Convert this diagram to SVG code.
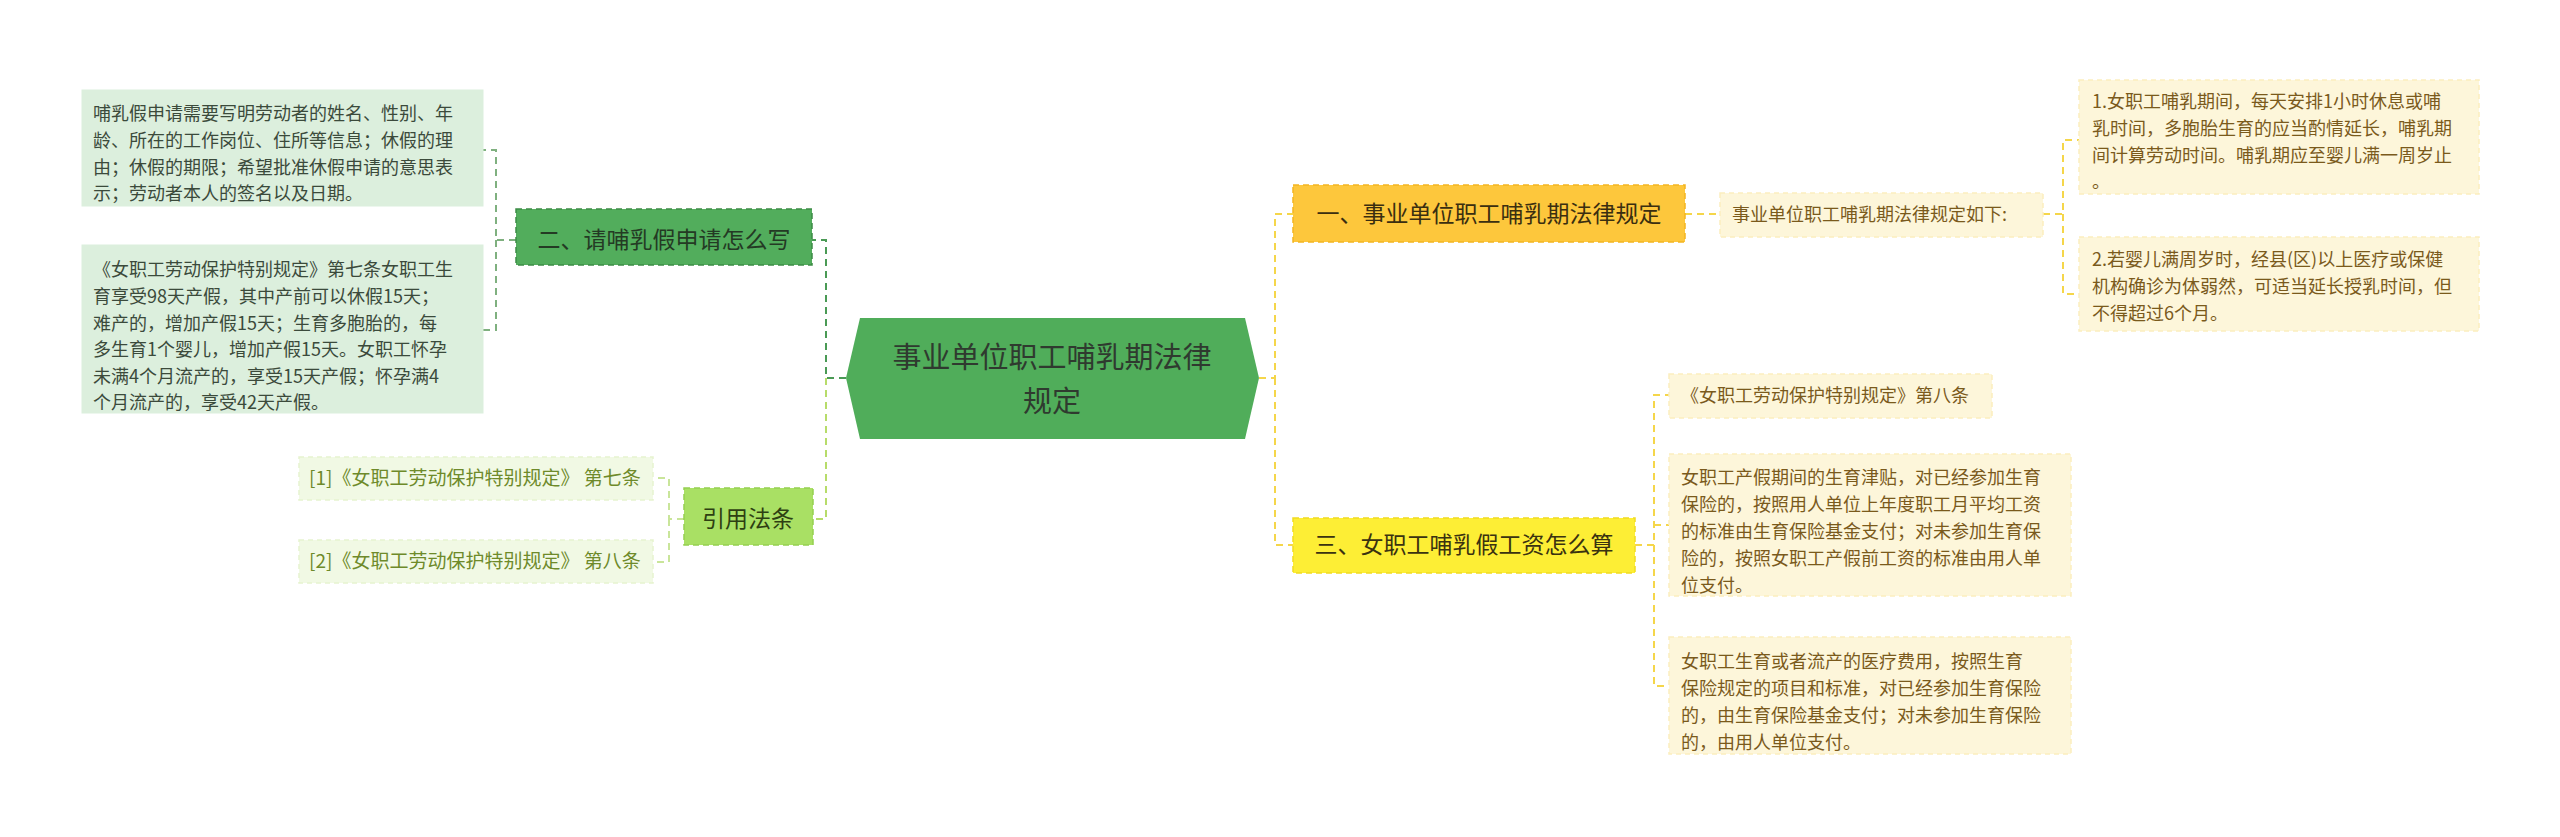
<svg xmlns="http://www.w3.org/2000/svg" width="2560" height="837" viewBox="0 0 2560 837">
<style>
text{font-family:"Noto Sans CJK SC","Noto Sans",sans-serif}
.c{fill:none;stroke-width:2;stroke-dasharray:7 5}
.lg{fill:#dcefdd;stroke:#dcefdd}
.ly{fill:#fdf6da;stroke:#fbeebf;stroke-dasharray:5 4;stroke-width:1.5}
.lc{fill:#f1f9e4;stroke:#e6f3cf;stroke-dasharray:5 4;stroke-width:1.5}
.tg{fill:#3b4a3b;font-size:18px}
.ty{fill:#7a5a1c;font-size:18px}
.tc{fill:#6e8a2a;font-size:19px}
</style>
<rect width="2560" height="837" fill="#fff"/>
<g id="connectors">
<path class="c" stroke="#4a9a55" d="M846 378H826V240H812"/>
<path class="c" stroke="#b7dc6a" d="M826 378V519H813"/>
<path class="c" stroke="#f5d64a" d="M1259 378H1275V214H1293M1275 378V545H1293M1685 214H1720M2043 214H2063V140H2079M2063 214V294H2079M1635 545H1654V395H1669M1654 525H1669M1654 545V686H1669"/>
<path class="c" stroke="#7fb07f" stroke-width="1.5" d="M516 240H496V150H483M496 240V330H483"/>
<path class="c" stroke="#c9e59a" stroke-width="1.5" d="M684 519H669V478H653M669 519V562H653"/>
</g>
<g id="root">
<polygon points="846,378 860,318 1245,318 1259,378 1245,439 860,439" fill="#50ad5a"/>
<text x="1052" y="368" text-anchor="middle" font-size="29" fill="#2f3a2f">事业单位职工哺乳期法律</text>
<text x="1052" y="412" text-anchor="middle" font-size="29" fill="#2f3a2f">规定</text>
</g>
<g id="b1">
<rect x="1293" y="185" width="392" height="57" fill="#fdc73c" stroke="#f3b520" stroke-dasharray="6 4" stroke-width="1.5"/>
<text x="1489" y="222" text-anchor="middle" font-size="23" fill="#3a2e10">一、事业单位职工哺乳期法律规定</text>
</g>
<g id="b1l0">
<rect class="ly" x="1720" y="193" width="323" height="44"/>
<text class="ty" x="1732" y="221">事业单位职工哺乳期法律规定如下:</text>
</g>
<g id="b1l1">
<rect class="ly" x="2079" y="80" width="400" height="114"/>
<text class="ty" x="2092" y="108">1.女职工哺乳期间，每天安排1小时休息或哺</text>
<text class="ty" x="2092" y="135">乳时间，多胞胎生育的应当酌情延长，哺乳期</text>
<text class="ty" x="2092" y="162">间计算劳动时间。哺乳期应至婴儿满一周岁止</text>
<text class="ty" x="2092" y="188">。</text>
</g>
<g id="b1l2">
<rect class="ly" x="2079" y="237" width="400" height="94"/>
<text class="ty" x="2092" y="266">2.若婴儿满周岁时，经县(区)以上医疗或保健</text>
<text class="ty" x="2092" y="293">机构确诊为体弱然，可适当延长授乳时间，但</text>
<text class="ty" x="2092" y="320">不得超过6个月。</text>
</g>
<g id="b3">
<rect x="1293" y="518" width="342" height="55" fill="#fdee35" stroke="#f1dc20" stroke-dasharray="6 4" stroke-width="1.5"/>
<text x="1464" y="553" text-anchor="middle" font-size="23" fill="#3a3210">三、女职工哺乳假工资怎么算</text>
</g>
<g id="b3l1">
<rect class="ly" x="1669" y="374" width="323" height="44"/>
<text class="ty" x="1681" y="402">《女职工劳动保护特别规定》第八条</text>
</g>
<g id="b3l2">
<rect class="ly" x="1669" y="454" width="402" height="142"/>
<text class="ty" x="1681" y="484">女职工产假期间的生育津贴，对已经参加生育</text>
<text class="ty" x="1681" y="511">保险的，按照用人单位上年度职工月平均工资</text>
<text class="ty" x="1681" y="538">的标准由生育保险基金支付；对未参加生育保</text>
<text class="ty" x="1681" y="565">险的，按照女职工产假前工资的标准由用人单</text>
<text class="ty" x="1681" y="592">位支付。</text>
</g>
<g id="b3l3">
<rect class="ly" x="1669" y="637" width="402" height="117"/>
<text class="ty" x="1681" y="668"> 女职工生育或者流产的医疗费用，按照生育</text>
<text class="ty" x="1681" y="695">保险规定的项目和标准，对已经参加生育保险</text>
<text class="ty" x="1681" y="722">的，由生育保险基金支付；对未参加生育保险</text>
<text class="ty" x="1681" y="749">的，由用人单位支付。</text>
</g>
<g id="b2">
<rect x="516" y="209" width="296" height="56" fill="#52ad5c" stroke="#3d8c45" stroke-dasharray="6 4" stroke-width="1.5"/>
<text x="664" y="248" text-anchor="middle" font-size="23" fill="#243a24">二、请哺乳假申请怎么写</text>
</g>
<g id="b2l1">
<rect class="lg" x="82" y="90" width="401" height="116"/>
<text class="tg" x="93" y="120">哺乳假申请需要写明劳动者的姓名、性别、年</text>
<text class="tg" x="93" y="147">龄、所在的工作岗位、住所等信息；休假的理</text>
<text class="tg" x="93" y="174">由；休假的期限；希望批准休假申请的意思表</text>
<text class="tg" x="93" y="200">示；劳动者本人的签名以及日期。</text>
</g>
<g id="b2l2">
<rect class="lg" x="82" y="245" width="401" height="168"/>
<text class="tg" x="93" y="276">《女职工劳动保护特别规定》第七条女职工生</text>
<text class="tg" x="93" y="303">育享受98天产假，其中产前可以休假15天；</text>
<text class="tg" x="93" y="330">难产的，增加产假15天；生育多胞胎的，每</text>
<text class="tg" x="93" y="356">多生育1个婴儿，增加产假15天。女职工怀孕</text>
<text class="tg" x="93" y="383">未满4个月流产的，享受15天产假；怀孕满4</text>
<text class="tg" x="93" y="409">个月流产的，享受42天产假。</text>
</g>
<g id="b4">
<rect x="684" y="488" width="129" height="57" fill="#a9e064" stroke="#95cf50" stroke-dasharray="6 4" stroke-width="1.5"/>
<text x="748" y="527" text-anchor="middle" font-size="23" fill="#2e3f12">引用法条</text>
</g>
<g id="b4l1">
<rect class="lc" x="299" y="457" width="354" height="43"/>
<text class="tc" x="309" y="485">[1]《女职工劳动保护特别规定》 第七条</text>
</g>
<g id="b4l2">
<rect class="lc" x="299" y="540" width="354" height="43"/>
<text class="tc" x="309" y="568">[2]《女职工劳动保护特别规定》 第八条</text>
</g>
</svg>
